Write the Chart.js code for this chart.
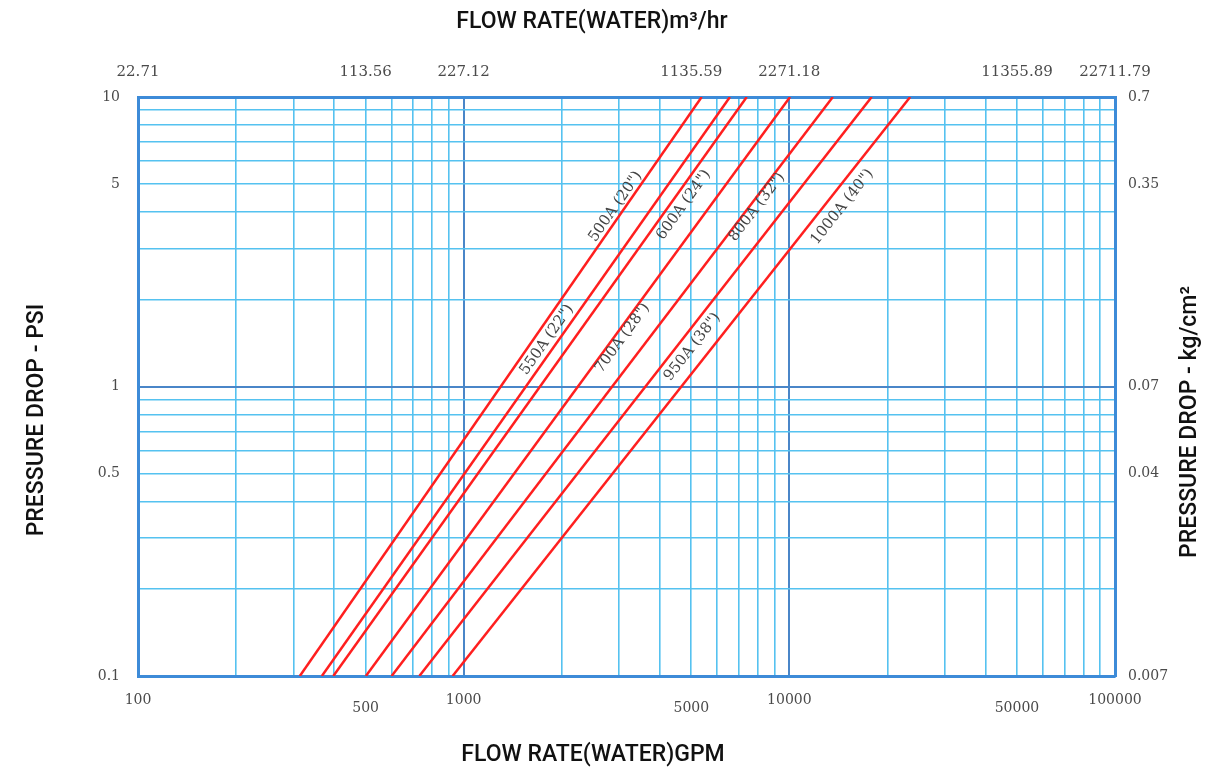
<!DOCTYPE html>
<html>
<head>
<meta charset="utf-8">
<title>Pressure drop vs flow rate</title>
<script src="https://cdn.jsdelivr.net/npm/chart.js@4.4.1/dist/chart.umd.min.js"></script>
<style>
  html, body { margin: 0; padding: 0; background: #fff; }
  #wrap { width: 1223px; height: 773px; }
</style>
</head>
<body>
<div id="wrap"><canvas id="chart" width="1223" height="773"></canvas></div>
<script>
// ---- data ----
const sizes = ['500A (20")', '550A (22")', '600A (24")', '700A (28")', '800A (32")', '950A (38")', '1000A (40")'];
const psiEnds = [0.1, 10];
const gpmAtLowPsi = [314, 367, 398, 501, 601, 731, 925];
const gpmAtHighPsi = [5380, 6570, 7400, 10050, 13600, 17900, 23500];
const labelPsi = [4.18, 1.45, 4.24, 1.47, 4.17, 1.37, 4.17];

const gpmGrid = [100, 200, 300, 400, 500, 600, 700, 800, 900,
  1000, 2000, 3000, 4000, 5000, 6000, 7000, 8000, 9000,
  10000, 20000, 30000, 40000, 50000, 60000, 70000, 80000, 90000, 100000];
const psiGrid = [0.1, 0.2, 0.3, 0.4, 0.5, 0.6, 0.7, 0.8, 0.9,
  1, 2, 3, 4, 5, 6, 7, 8, 9, 10];
const gpmMajor = [1000, 10000];
const psiMajor = [1];

const gpmTicks = [100, 500, 1000, 5000, 10000, 50000, 100000];
const gpmTicksLowered = [500, 5000, 50000];
const m3hrTickLabels = ['22.71', '113.56', '227.12', '1135.59', '2271.18', '11355.89', '22711.79'];
const psiTicks = [0.1, 0.5, 1, 5, 10];
const psiTickLabels = ['0.1', '0.5', '1', '5', '10'];
const kgTickLabels = ['0.007', '0.04', '0.07', '0.35', '0.7'];

// ---- styles ----
const GRID_LIGHT = '#55c2f0';
const GRID_MAJOR = '#4a86c8';
const FRAME = '#3d8bd8';
const LINE_RED = '#ff1f1f';
const TICK_COLOR = '#4a4a4a';
const TICK_FONT = 'DejaVu Serif';
const TITLE_FONT = '500 23px Roboto';

const datasets = sizes.map((name, i) => ({
  label: name,
  data: [
    { x: gpmAtLowPsi[i], y: psiEnds[0] },
    { x: gpmAtHighPsi[i], y: psiEnds[1] }
  ],
  showLine: true,
  borderColor: LINE_RED,
  borderWidth: 2.5,
  pointRadius: 0,
  fill: false
}));

const setTicks = values => scale => { scale.ticks = values.map(v => ({ value: v })); };

// labels written along each line
const lineLabels = {
  id: 'lineLabels',
  afterDatasetsDraw(chart, args, opts) {
    const { ctx } = chart;
    const yScale = chart.scales.y;
    ctx.save();
    ctx.font = opts.font;
    ctx.fillStyle = opts.color;
    ctx.textAlign = 'center';
    ctx.textBaseline = 'middle';
    sizes.forEach((name, i) => {
      const pts = chart.getDatasetMeta(i).data;
      const p0 = pts[0], p1 = pts[1];
      const py = yScale.getPixelForValue(labelPsi[i]);
      const t = (py - p0.y) / (p1.y - p0.y);
      const px = p0.x + t * (p1.x - p0.x) + opts.offsets[i];
      ctx.save();
      ctx.translate(px, py);
      ctx.rotate(Math.atan2(p1.y - p0.y, p1.x - p0.x));
      ctx.fillText(name, 0, 0);
      ctx.restore();
    });
    ctx.restore();
  }
};

// axis titles (placed like the reference, not centred on the plot)
const axisTitles = {
  id: 'axisTitles',
  afterDraw(chart, args, opts) {
    const { ctx } = chart;
    ctx.save();
    ctx.font = opts.font;
    ctx.fillStyle = opts.color;
    ctx.textAlign = 'center';
    ctx.textBaseline = 'middle';
    opts.items.forEach(it => {
      ctx.save();
      ctx.translate(it.x, it.y);
      if (it.vertical) ctx.rotate(-Math.PI / 2);
      ctx.fillText(it.text, 0, 0);
      ctx.restore();
    });
    ctx.restore();
  }
};

new Chart(document.getElementById('chart'), {
  type: 'scatter',
  data: { datasets },
  plugins: [lineLabels, axisTitles],
  options: {
    responsive: false,
    animation: false,
    layout: { padding: 0 },
    plugins: {
      legend: { display: false },
      tooltip: { enabled: false },
      lineLabels: { font: '15px "DejaVu Serif"', color: '#444', offsets: [-10, -12, 14, 9, 8, 16, 19] },
      axisTitles: {
        font: TITLE_FONT,
        color: '#111',
        items: [
          { text: 'FLOW RATE(WATER)m\u00b3/hr', x: 592, y: 22 },
          { text: 'FLOW RATE(WATER)GPM', x: 593, y: 755 },
          { text: 'PRESSURE DROP - PSI', x: 37, y: 420, vertical: true },
          { text: 'PRESSURE DROP - kg/cm\u00b2', x: 1190, y: 422, vertical: true }
        ]
      }
    },
    scales: {
      x: {
        type: 'logarithmic',
        position: 'bottom',
        min: 100,
        max: 100000,
        afterBuildTicks: setTicks(gpmGrid),
        afterFit: s => { s.height = 97; },
        ticks: {
          autoSkip: false,
          maxRotation: 0,
          padding: 20,
          color: TICK_COLOR,
          font: { family: TICK_FONT, size: 14, lineHeight: '8px' },
          callback: v => {
            if (!gpmTicks.includes(v)) return '';
            const s = String(v);
            return gpmTicksLowered.includes(v) ? ['', s] : s;
          }
        },
        grid: {
          drawTicks: false,
          color: c => (c.tick && gpmMajor.includes(c.tick.value)) ? GRID_MAJOR : GRID_LIGHT,
          lineWidth: c => (c.tick && gpmMajor.includes(c.tick.value)) ? 2 : 1.6
        },
        border: { color: FRAME, width: 3 }
      },
      x2: {
        type: 'logarithmic',
        position: 'top',
        min: 100,
        max: 100000,
        afterBuildTicks: setTicks(gpmTicks),
        afterFit: s => { s.height = 97; },
        ticks: {
          autoSkip: false,
          maxRotation: 0,
          padding: 16,
          color: TICK_COLOR,
          font: { family: TICK_FONT, size: 15 },
          callback: (v, i) => m3hrTickLabels[i]
        },
        grid: { display: false, drawTicks: false },
        border: { color: FRAME, width: 3 }
      },
      y: {
        type: 'logarithmic',
        position: 'left',
        min: 0.1,
        max: 10,
        afterBuildTicks: setTicks(psiGrid),
        afterFit: s => { s.width = 138; },
        ticks: {
          autoSkip: false,
          padding: 18,
          color: TICK_COLOR,
          font: { family: TICK_FONT, size: 14 },
          callback: v => {
            const i = psiTicks.indexOf(v);
            return i < 0 ? '' : psiTickLabels[i];
          }
        },
        grid: {
          drawTicks: false,
          color: c => (c.tick && psiMajor.includes(c.tick.value)) ? GRID_MAJOR : GRID_LIGHT,
          lineWidth: c => (c.tick && psiMajor.includes(c.tick.value)) ? 2 : 1.6
        },
        border: { color: FRAME, width: 3 }
      },
      y2: {
        type: 'logarithmic',
        position: 'right',
        min: 0.1,
        max: 10,
        afterBuildTicks: setTicks(psiTicks),
        afterFit: s => { s.width = 108; },
        ticks: {
          autoSkip: false,
          padding: 13,
          color: TICK_COLOR,
          font: { family: TICK_FONT, size: 14 },
          callback: (v, i) => kgTickLabels[i]
        },
        grid: { display: false, drawTicks: false },
        border: { color: FRAME, width: 3 }
      }
    }
  }
});
</script>
</body>
</html>
